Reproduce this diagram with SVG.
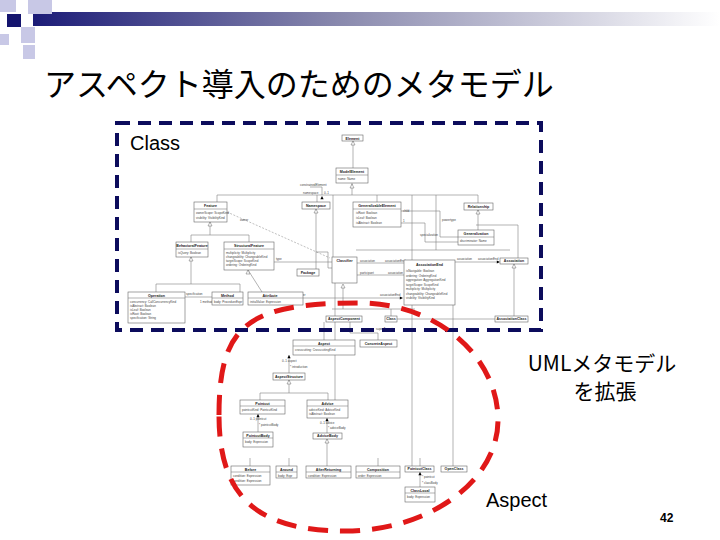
<svg xmlns="http://www.w3.org/2000/svg" xmlns:xlink="http://www.w3.org/1999/xlink" width="720" height="540" viewBox="0 0 720 540">
<style>
.b{fill:#fff;stroke:#666;stroke-width:0.6}
.l{fill:none;stroke:#808080;stroke-width:0.6}
.d{fill:none;stroke:#808080;stroke-width:0.5;stroke-dasharray:2 1.5}
.t{font-family:"Liberation Sans",Arial,sans-serif;font-size:3.6px;font-weight:bold;fill:#222;text-anchor:middle}
.a{font-family:"Liberation Sans",Arial,sans-serif;font-size:3px;fill:#444}
.big{font-family:"Liberation Sans",Arial,sans-serif;font-size:20px;fill:#000}
.jp{font-family:"Noto Sans CJK JP","Noto Sans CJK SC",sans-serif;fill:#000}
.sq{fill:#c8c8e6}
</style>
<defs>
<linearGradient id="bar" x1="0" y1="0" x2="1" y2="0">
<stop offset="0" stop-color="#1c1c78"/>
<stop offset="0.45" stop-color="#8a8aae"/>
<stop offset="1" stop-color="#ffffff"/>
</linearGradient>
<path id="tri" d="M0,0 L-2,4 L2,4 Z" fill="#fff" stroke="#666" stroke-width="0.5"/>
<path id="arr" d="M0,0 L-1.6,3.2 L1.6,3.2 Z" fill="#000"/>
</defs>

<g id="decoration">
<rect x="33" y="12" width="687" height="14" fill="url(#bar)"/>
<rect class="sq" x="0" y="0" width="16" height="12"/>
<rect class="sq" x="28" y="0" width="24" height="14"/>
<rect x="7" y="14" width="14" height="13" fill="#14146e"/>
<rect class="sq" x="21" y="27" width="14" height="16"/>
<rect class="sq" x="0" y="34" width="9" height="11"/>
<rect class="sq" x="23" y="45" width="12" height="14"/>
</g>

<text id="title" class="jp" x="44" y="96" font-size="32">アスペクト導入のためのメタモデル</text>

<g id="connectors">
<line class="l" x1="353" y1="141" x2="353" y2="168"/>
<line class="l" x1="352" y1="183" x2="352" y2="195"/>
<line class="l" x1="217" y1="195" x2="478" y2="195"/>
<line class="l" x1="217" y1="195" x2="217" y2="202"/>
<line class="l" x1="317" y1="195" x2="317" y2="202"/>
<line class="l" x1="377" y1="195" x2="377" y2="202"/>
<line class="l" x1="478" y1="195" x2="478" y2="203"/>
<line class="l" x1="478" y1="210" x2="478" y2="230"/>
<polyline class="l" points="476,225 518,225 518,262"/>
<polyline class="l" points="401,211 440,211 440,237 458,237"/>
<polyline class="l" points="401,223 425,223 425,242 458,242"/>
<line class="l" x1="436" y1="195" x2="436" y2="250"/>
<line class="l" x1="333" y1="195" x2="333" y2="257"/>
<line class="l" x1="412" y1="195" x2="412" y2="466"/>
<line class="l" x1="453" y1="305" x2="453" y2="466"/>
<polyline class="l" points="310,187 322,187 322,195"/>
<line class="l" x1="210" y1="222" x2="210" y2="235"/>
<line class="l" x1="191" y1="235" x2="249" y2="235"/>
<line class="l" x1="191" y1="235" x2="191" y2="242"/>
<line class="l" x1="249" y1="235" x2="249" y2="242"/>
<line class="l" x1="191" y1="257" x2="191" y2="284"/>
<line class="l" x1="156" y1="284" x2="240" y2="284"/>
<line class="l" x1="156" y1="284" x2="156" y2="292"/>
<line class="l" x1="240" y1="284" x2="240" y2="292"/>
<line class="l" x1="185" y1="297" x2="212" y2="297"/>
<line class="d" x1="227" y1="212" x2="330" y2="258"/>
<line class="l" x1="248" y1="270" x2="262" y2="292"/>
<line class="l" x1="274" y1="262" x2="332" y2="262"/>
<line class="l" x1="316" y1="209" x2="316" y2="269"/>
<polyline class="l" points="316,252 328,252 328,268 332,268"/>
<line class="l" x1="357" y1="263" x2="404" y2="263"/>
<line class="l" x1="357" y1="275" x2="404" y2="275"/>
<polyline class="l" points="356,250 510,250"/>
<line class="l" x1="455" y1="262" x2="498" y2="262"/>
<line class="l" x1="514" y1="264" x2="514" y2="317"/>
<line class="l" x1="397" y1="319" x2="495" y2="319"/>
<line class="l" x1="303" y1="298" x2="401" y2="298"/>
<line class="l" x1="343" y1="287" x2="343" y2="309"/>
<line class="l" x1="332" y1="309" x2="415" y2="309"/>
<line class="l" x1="391" y1="309" x2="391" y2="317"/>
<line class="l" x1="335" y1="283" x2="335" y2="400"/>
<line class="l" x1="324" y1="322" x2="324" y2="340"/>
<polyline class="l" points="350,322 350,333 378,333 378,340"/>
<line class="l" x1="289" y1="355" x2="289" y2="373"/>
<line class="l" x1="289" y1="380" x2="289" y2="393"/>
<line class="l" x1="260" y1="393" x2="328" y2="393"/>
<line class="l" x1="260" y1="393" x2="260" y2="400"/>
<line class="l" x1="328" y1="393" x2="328" y2="400"/>
<line class="l" x1="258" y1="414" x2="258" y2="432"/>
<line class="l" x1="327" y1="418" x2="327" y2="433"/>
<line class="l" x1="327" y1="439" x2="327" y2="466"/>
<line class="l" x1="250" y1="458" x2="250" y2="466"/>
<line class="l" x1="289" y1="458" x2="289" y2="466"/>
<line class="l" x1="378" y1="458" x2="378" y2="466"/>
<line class="l" x1="420" y1="458" x2="420" y2="466"/>
<line class="l" x1="420" y1="472" x2="420" y2="487"/>
<use xlink:href="#tri" x="353" y="141"/>
<use xlink:href="#tri" x="352" y="184"/>
<use xlink:href="#tri" x="478" y="210"/>
<use xlink:href="#tri" x="210" y="222"/>
<use xlink:href="#tri" x="191" y="257"/>
<use xlink:href="#tri" x="248" y="270"/>
<use xlink:href="#tri" x="316" y="209"/>
<use xlink:href="#tri" x="343" y="284"/>
<use xlink:href="#tri" x="514" y="264"/>
<use xlink:href="#tri" x="289" y="380"/>
<use xlink:href="#tri" x="327" y="439"/>
<use xlink:href="#arr" x="322" y="196"/>
<use xlink:href="#arr" transform="translate(403,298) rotate(90)"/>
<use xlink:href="#arr" transform="translate(500,262) rotate(90)"/>
<use xlink:href="#arr" x="289" y="355"/>
<use xlink:href="#arr" x="258" y="414"/>
<use xlink:href="#arr" x="327" y="418"/>
<use xlink:href="#arr" x="420" y="472"/>
<text class="a" x="300" y="186">constrainedElement</text>
<text class="a" x="303" y="194">namespace</text>
<text class="a" x="324" y="194">0..1</text>
<text class="a" x="240" y="221">owner</text>
<text class="a" x="276" y="260">type</text>
<text class="a" x="186" y="295">specification</text>
<text class="a" x="200" y="303">1   method</text>
<text class="a" x="228" y="303">*</text>
<text class="a" x="295" y="296">qualifier</text>
<text class="a" x="380" y="296">associationEnd</text>
<text class="a" x="403" y="212">child</text>
<text class="a" x="403" y="222">1</text>
<text class="a" x="442" y="221">powertype</text>
<text class="a" x="420" y="236">specialization</text>
<text class="a" x="360" y="262">association</text>
<text class="a" x="385" y="262">associationEnd</text>
<text class="a" x="360" y="274">participant</text>
<text class="a" x="388" y="274">association</text>
<text class="a" x="457" y="260">association</text>
<text class="a" x="478" y="260">associationEnd</text>
<text class="a" x="376" y="330">superAspect</text>
<text class="a" x="282" y="362">0..1 aspect</text>
<text class="a" x="290" y="368">* introduction</text>
<text class="a" x="250" y="420">0..1 pointcut</text>
<text class="a" x="259" y="426">* pointcutBody</text>
<text class="a" x="320" y="424">0..1 advice</text>
<text class="a" x="328" y="429">* adviceBody</text>
<text class="a" x="422" y="478">* pointcut</text>
<text class="a" x="422" y="484">* classBody</text>
</g>

<g id="uml-nodes">
<g id="n-element"><rect class="b" x="342" y="135" width="21" height="6"/><text class="t" x="352.5" y="139.5">Element</text></g>
<g id="n-modelelement"><rect class="b" x="336" y="168" width="32" height="15"/><line class="l" x1="336" y1="175" x2="368" y2="175"/><text class="t" x="352" y="172.5">ModelElement</text><text class="a" x="338" y="180">name: Name</text></g>
<g id="n-namespace"><rect class="b" x="302" y="202" width="28" height="7"/><text class="t" x="316" y="206.8">Namespace</text></g>
<g id="n-feature"><rect class="b" x="194" y="202" width="33" height="20"/><line class="l" x1="194" y1="209" x2="227" y2="209"/><text class="t" x="210.5" y="206.8">Feature</text><text class="a" x="196" y="214">ownerScope: ScopeKind</text><text class="a" x="196" y="219">visibility: VisibilityKind</text></g>
<g id="n-genelement"><rect class="b" x="353" y="202" width="48" height="25"/><line class="l" x1="353" y1="209" x2="401" y2="209"/><text class="t" x="377" y="206.8">GeneralizableElement</text><text class="a" x="356" y="214">isRoot: Boolean</text><text class="a" x="356" y="219">isLeaf: Boolean</text><text class="a" x="356" y="224">isAbstract: Boolean</text></g>
<g id="n-relationship"><rect class="b" x="464" y="203" width="29" height="7"/><text class="t" x="478.5" y="207.8">Relationship</text></g>
<g id="n-generalization"><rect class="b" x="458" y="230" width="36" height="15"/><line class="l" x1="458" y1="237" x2="494" y2="237"/><text class="t" x="476" y="234.8">Generalization</text><text class="a" x="460" y="242">discriminator: Name</text></g>
<g id="n-behavioral"><rect class="b" x="176" y="242" width="32" height="15"/><line class="l" x1="176" y1="249" x2="208" y2="249"/><text class="t" x="192" y="246.8">BehavioralFeature</text><text class="a" x="178" y="254">isQuery: Boolean</text></g>
<g id="n-structural"><rect class="b" x="224" y="242" width="50" height="28"/><line class="l" x1="224" y1="249" x2="274" y2="249"/><text class="t" x="249" y="246.8">StructuralFeature</text><text class="a" x="226" y="254">multiplicity: Multiplicity</text><text class="a" x="226" y="258">changeability: ChangeableKind</text><text class="a" x="226" y="262">targetScope: ScopeKind</text><text class="a" x="226" y="266">ordering: OrderingKind</text></g>
<g id="n-operation"><rect class="b" x="128" y="292" width="57" height="31"/><line class="l" x1="128" y1="298" x2="185" y2="298"/><text class="t" x="156.5" y="296.5">Operation</text><text class="a" x="130" y="303">concurrency: CallConcurrencyKind</text><text class="a" x="130" y="307">isAbstract: Boolean</text><text class="a" x="130" y="311">isLeaf: Boolean</text><text class="a" x="130" y="315">isRoot: Boolean</text><text class="a" x="130" y="319">specification: String</text></g>
<g id="n-method"><rect class="b" x="212" y="292" width="31" height="13"/><line class="l" x1="212" y1="298" x2="243" y2="298"/><text class="t" x="227.5" y="296.5">Method</text><text class="a" x="214" y="303">body: ProcedureExpr</text></g>
<g id="n-attribute"><rect class="b" x="248" y="292" width="55" height="13"/><line class="l" x1="248" y1="298" x2="303" y2="298"/><text class="t" x="270" y="296.5">Attribute</text><text class="a" x="250" y="303">initialValue: Expression</text></g>
<g id="n-package"><rect class="b" x="297" y="269" width="22" height="7"/><text class="t" x="308" y="273.8">Package</text></g>
<g id="n-classifier"><rect class="b" x="332" y="257" width="25" height="26"/><text class="t" x="344.5" y="262">Classifier</text></g>
<g id="n-assocend"><rect class="b" x="404" y="260" width="51" height="45"/><text class="t" x="429.5" y="265.5">AssociationEnd</text><text class="a" x="406" y="272">isNavigable: Boolean</text><text class="a" x="406" y="276.5">ordering: OrderingKind</text><text class="a" x="406" y="281">aggregation: AggregationKind</text><text class="a" x="406" y="285.5">targetScope: ScopeKind</text><text class="a" x="406" y="290">multiplicity: Multiplicity</text><text class="a" x="406" y="294.5">changeability: ChangeableKind</text><text class="a" x="406" y="299">visibility: VisibilityKind</text></g>
<g id="n-association"><rect class="b" x="500" y="258" width="28" height="6"/><text class="t" x="514" y="262.4">Association</text></g>
<g id="n-assocclass"><rect class="b" x="495" y="316" width="33" height="6"/><text class="t" x="511.5" y="320.4">AssociationClass</text></g>
<g id="n-class"><rect class="b" x="385" y="316" width="12" height="6"/><text class="t" x="391" y="320.4">Class</text></g>
<g id="n-aspectcomponent"><rect class="b" x="326" y="316" width="36" height="6"/><text class="t" x="344" y="320.4">AspectComponent</text></g>
<g id="n-aspect"><rect class="b" x="293" y="340" width="62" height="15"/><line class="l" x1="293" y1="346" x2="355" y2="346"/><text class="t" x="324" y="344.5">Aspect</text><text class="a" x="295" y="351">crosscutting: CrosscuttingKind</text></g>
<g id="n-concreteaspect"><rect class="b" x="360" y="340" width="37" height="7"/><text class="t" x="378.5" y="344.8">ConcreteAspect</text></g>
<g id="n-aspectstructure"><rect class="b" x="273" y="373" width="32" height="7"/><text class="t" x="289" y="377.8">AspectStructure</text></g>
<g id="n-pointcut"><rect class="b" x="240" y="400" width="45" height="14"/><line class="l" x1="240" y1="406" x2="285" y2="406"/><text class="t" x="262.5" y="404.5">Pointcut</text><text class="a" x="242" y="411">pointcutKind: PointcutKind</text></g>
<g id="n-advice"><rect class="b" x="307" y="400" width="41" height="18"/><line class="l" x1="307" y1="406" x2="348" y2="406"/><text class="t" x="327.5" y="404.5">Advice</text><text class="a" x="309" y="411">adviceKind: AdviceKind</text><text class="a" x="309" y="415">isAbstract: Boolean</text></g>
<g id="n-pointcutbody"><rect class="b" x="243" y="432" width="30" height="15"/><line class="l" x1="243" y1="438" x2="273" y2="438"/><text class="t" x="258" y="436.5">PointcutBody</text><text class="a" x="245" y="443">body: Expression</text></g>
<g id="n-advicebody"><rect class="b" x="313" y="433" width="29" height="6"/><text class="t" x="327.5" y="437.4">AdviceBody</text></g>
<g id="n-before"><rect class="b" x="231" y="466" width="39" height="19"/><line class="l" x1="231" y1="472" x2="270" y2="472"/><text class="t" x="250.5" y="470.5">Before</text><text class="a" x="233" y="477">condition: Expression</text><text class="a" x="233" y="482">condition: Expression</text></g>
<g id="n-around"><rect class="b" x="276" y="466" width="21" height="12"/><line class="l" x1="276" y1="472" x2="297" y2="472"/><text class="t" x="286.5" y="470.5">Around</text><text class="a" x="278" y="476.5">body: Expr</text></g>
<g id="n-afterreturning"><rect class="b" x="306" y="466" width="45" height="12"/><line class="l" x1="306" y1="472" x2="351" y2="472"/><text class="t" x="328.5" y="470.5">AfterReturning</text><text class="a" x="308" y="476.5">condition: Expression</text></g>
<g id="n-composition"><rect class="b" x="356" y="466" width="44" height="12"/><line class="l" x1="356" y1="472" x2="400" y2="472"/><text class="t" x="378" y="470.5">Composition</text><text class="a" x="358" y="476.5">order: Expression</text></g>
<g id="n-pointcutclass"><rect class="b" x="405" y="466" width="29" height="6"/><text class="t" x="419.5" y="470.4">PointcutClass</text></g>
<g id="n-openclass"><rect class="b" x="441" y="466" width="26" height="6"/><text class="t" x="454" y="470.4">OpenClass</text></g>
<g id="n-classlocal"><rect class="b" x="405" y="487" width="30" height="15"/><line class="l" x1="405" y1="493" x2="435" y2="493"/><text class="t" x="420" y="491.5">ClassLocal</text><text class="a" x="407" y="498">body: Expression</text></g>
</g>

<g id="class-frame">
<rect x="117" y="123" width="424" height="207" fill="none" stroke="#0c0c5c" stroke-width="4" stroke-dasharray="13 8"/>
<text class="big" x="130" y="150">Class</text>
</g>

<g id="aspect-frame">
<path d="M219,415 C219,325 247,303 360,303 C436,303 498,356 498,420 C498,481 429,531 345,531 C250,531 219,490 219,415 Z" fill="none" stroke="#e01818" stroke-width="5" stroke-dasharray="20 12"/>
</g>

<g id="labels">
<text class="jp" x="602" y="371" font-size="21" text-anchor="middle">UMLメタモデル</text>
<text class="jp" x="605" y="399" font-size="21" text-anchor="middle">を拡張</text>
<text class="big" x="486" y="507">Aspect</text>
<text x="660" y="522" font-family="Liberation Sans,Arial,sans-serif" font-size="12" font-weight="bold" fill="#000">42</text>
</g>
</svg>
